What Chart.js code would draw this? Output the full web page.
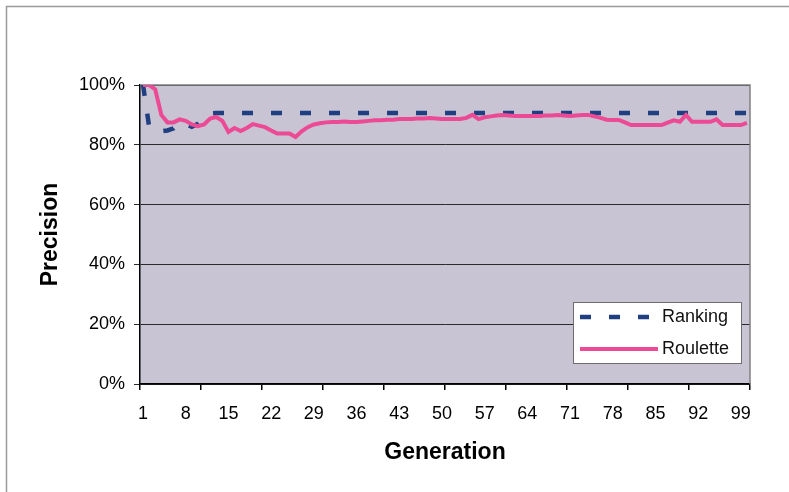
<!DOCTYPE html>
<html>
<head>
<meta charset="utf-8">
<script src="https://cdn.jsdelivr.net/npm/chart.js@4/dist/chart.umd.min.js"></script>
<style>
  html, body { margin: 0; padding: 0; background: #ffffff; }
  #wrap { width: 789px; height: 492px; position: relative; }
</style>
</head>
<body>
<div id="wrap"><canvas id="precisionChart" width="789" height="492"></canvas></div>
<script>
// Generations 1..100 on the category axis
const generations = Array.from({ length: 100 }, (_, i) => String(i + 1));

// Precision per generation (fraction)
const rankingValues = [
  1.00, 0.86, 0.845, 0.845, 0.848, 0.855, 0.875, 0.87, 0.86, 0.87,
  0.89, 0.905, 0.906, 0.906, 0.906, 0.906, 0.906, 0.906, 0.906, 0.906,
  0.906, 0.906, 0.906, 0.906, 0.906, 0.906, 0.906, 0.906, 0.906, 0.906,
  0.906, 0.906, 0.906, 0.906, 0.906, 0.906, 0.906, 0.906, 0.906, 0.906,
  0.906, 0.906, 0.906, 0.906, 0.906, 0.906, 0.906, 0.906, 0.906, 0.906,
  0.906, 0.906, 0.906, 0.906, 0.906, 0.906, 0.906, 0.906, 0.906, 0.906,
  0.906, 0.906, 0.906, 0.906, 0.906, 0.906, 0.906, 0.906, 0.906, 0.906,
  0.906, 0.906, 0.906, 0.906, 0.906, 0.906, 0.906, 0.906, 0.906, 0.906,
  0.906, 0.906, 0.906, 0.906, 0.906, 0.906, 0.906, 0.906, 0.906, 0.906,
  0.906, 0.906, 0.906, 0.906, 0.906, 0.906, 0.906, 0.906, 0.906, 0.906
];
const rouletteValues = [
  1.00, 1.00, 0.985, 0.90, 0.875, 0.875, 0.885, 0.88, 0.868, 0.862,
  0.868, 0.888, 0.893, 0.88, 0.843, 0.856, 0.846, 0.856, 0.869, 0.864,
  0.859, 0.848, 0.838, 0.838, 0.838, 0.826, 0.845, 0.859, 0.868, 0.872,
  0.875, 0.876, 0.876, 0.878, 0.876, 0.876, 0.878, 0.88, 0.882, 0.882,
  0.884, 0.884, 0.886, 0.886, 0.886, 0.888, 0.888, 0.89, 0.888, 0.886,
  0.886, 0.886, 0.886, 0.89, 0.90, 0.886, 0.892, 0.895, 0.898, 0.90,
  0.898, 0.896, 0.896, 0.896, 0.896, 0.896, 0.898, 0.898, 0.90, 0.898,
  0.896, 0.898, 0.90, 0.90, 0.895, 0.89, 0.884, 0.883, 0.883, 0.875,
  0.866, 0.866, 0.866, 0.866, 0.866, 0.866, 0.874, 0.882, 0.877, 0.90,
  0.877, 0.877, 0.877, 0.877, 0.885, 0.866, 0.866, 0.866, 0.866, 0.873
];

const seriesNames = ["Ranking", "Roulette"];

Chart.defaults.font.family = "'Liberation Sans', Arial, sans-serif";
Chart.defaults.color = "#000000";

// Page background, outer frame and the grey plot area
const backdrop = {
  id: "backdrop",
  beforeDraw(chart) {
    const { ctx, chartArea: a } = chart;
    ctx.save();
    ctx.fillStyle = "#ffffff";
    ctx.fillRect(0, 0, chart.width, chart.height);
    ctx.strokeStyle = "#9a9a9a";
    ctx.lineWidth = 1.5;
    ctx.beginPath();
    ctx.moveTo(6.5, chart.height);
    ctx.lineTo(6.5, 6.5);
    ctx.lineTo(chart.width, 6.5);
    ctx.stroke();
    ctx.fillStyle = "#c8c4d4";
    ctx.fillRect(a.left, a.top, a.right - a.left, a.bottom - a.top);
    ctx.restore();
  },
  beforeDatasetsDraw(chart) {
    const { ctx, chartArea: a } = chart;
    ctx.save();
    ctx.strokeStyle = "#808080";
    ctx.lineWidth = 1.5;
    ctx.beginPath();
    ctx.moveTo(a.left, a.top);
    ctx.lineTo(a.right, a.top);
    ctx.lineTo(a.right, a.bottom);
    ctx.stroke();
    ctx.restore();
  },
};

// Boxed legend inside the plot, like the original
const boxLegend = {
  id: "boxLegend",
  afterDraw(chart) {
    const { ctx } = chart;
    const x = 573, y = 302, w = 168, h = 61;
    ctx.save();
    ctx.fillStyle = "#ffffff";
    ctx.fillRect(x, y, w, h);
    ctx.strokeStyle = "#6e6e6e";
    ctx.lineWidth = 1;
    ctx.strokeRect(x + 0.5, y + 0.5, w, h);
    chart.data.datasets.forEach((ds, i) => {
      const rowY = y + 15 + i * 32;
      ctx.beginPath();
      ctx.strokeStyle = ds.borderColor;
      ctx.lineWidth = ds.borderWidth;
      ctx.setLineDash(ds.borderDash || []);
      ctx.moveTo(580, rowY);
      ctx.lineTo(658, rowY);
      ctx.stroke();
      ctx.setLineDash([]);
      ctx.fillStyle = "#111111";
      ctx.font = "18px 'Liberation Sans', Arial, sans-serif";
      ctx.textBaseline = "middle";
      ctx.fillText(ds.label, 662, rowY);
    });
    ctx.restore();
  },
};

new Chart(document.getElementById("precisionChart"), {
  type: "line",
  data: {
    labels: generations,
    datasets: [
      {
        label: seriesNames[0],
        data: rankingValues,
        borderColor: "#1f3f80",
        borderWidth: 4.5,
        borderDash: [11, 18],
        pointRadius: 0,
        tension: 0,
        order: 1,
      },
      {
        label: seriesNames[1],
        data: rouletteValues,
        borderColor: "#ec4a94",
        borderWidth: 4,
        pointRadius: 0,
        tension: 0,
        order: 0,
      },
    ],
  },
  options: {
    responsive: false,
    animation: false,
    layout: { padding: { left: 30, top: 85, right: 39, bottom: 14 } },
    plugins: {
      legend: { display: false },
      tooltip: { enabled: false },
    },
    scales: {
      x: {
        type: "category",
        offset: true,
        afterFit: (s) => { s.height = 94; },
        grid: {
          offset: true,
          drawOnChartArea: false,
          drawTicks: true,
          tickLength: 6,
          lineWidth: 1.5,
          color: (c) => (c.index === undefined || c.index % 10 === 0 ? "#000000" : "rgba(0,0,0,0)"),
        },
        border: { display: true, color: "#000000", width: 1.5 },
        ticks: {
          autoSkip: false,
          maxRotation: 0,
          minRotation: 0,
          padding: 13,
          font: { size: 18 },
          callback: function (value, index) {
            return index % 7 === 0 ? this.getLabelForValue(value) : "";
          },
        },
        title: {
          display: true,
          text: "Generation",
          font: { size: 23, weight: "bold" },
          padding: { top: 0, bottom: 12 },
        },
      },
      y: {
        min: 0,
        max: 1,
        afterFit: (s) => { s.width = 110; },
        grid: {
          color: "#2a2a2a",
          lineWidth: 1,
          tickLength: 6,
        },
        border: { display: true, color: "#000000", width: 1.5 },
        ticks: {
          stepSize: 0.2,
          padding: 9,
          font: { size: 18 },
          callback: (v) => Math.round(v * 100) + "%",
        },
        title: {
          display: true,
          text: "Precision",
          font: { size: 23, weight: "bold" },
          padding: { top: 7, bottom: 0 },
        },
      },
    },
  },
  plugins: [backdrop, boxLegend],
});
</script>
</body>
</html>
